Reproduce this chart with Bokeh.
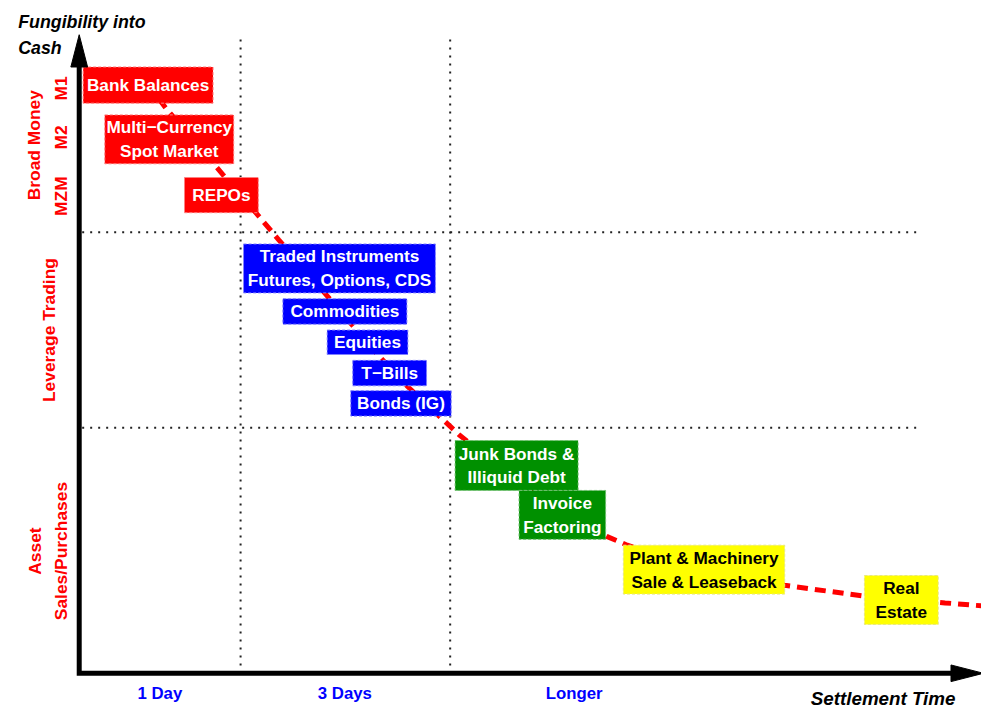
import numpy as np
from bokeh.plotting import figure
from bokeh.models import Range1d, ColumnDataSource
from bokeh.embed import file_html
from bokeh.resources import INLINE
from bokeh.core.properties import value

# ---------------- data (diagram coordinates: x to the right, y downward) -------------
box_labels = [
    "Bank Balances",
    "Multi\u2212Currency\nSpot Market",
    "REPOs",
    "Traded Instruments\nFutures, Options, CDS",
    "Commodities",
    "Equities",
    "T\u2212Bills",
    "Bonds (IG)",
    "Junk Bonds &\nIlliquid Debt",
    "Invoice\nFactoring",
    "Plant & Machinery\nSale & Leaseback",
    "Real\nEstate",
]
box_group = ["money"] * 3 + ["leverage"] * 5 + ["asset"] * 2 + ["property"] * 2
box_left = [84, 106, 187, 247, 287, 332, 358, 356, 462, 527, 633, 878]
box_right = [216, 237, 262, 442, 413, 414, 433, 458, 587, 615, 797, 953]
box_top = [68, 117, 181, 249, 305, 337, 368, 399, 450, 501, 557, 588]
box_bottom = [105, 167, 217, 299, 331, 362, 394, 425, 501, 551, 607, 638]

curve_x = [150, 168, 226, 262, 283, 320, 361, 386, 414, 449, 466, 540, 616, 637, 717, 797, 877, 960, 997]
curve_y = [86, 110, 178, 220, 245, 288, 336, 365, 395, 428, 444, 503, 548, 557, 583, 598, 609, 616, 619]

x_tick_labels = ["1 Day", "3 Days", "Longer"]
x_tick_pos = [162, 350, 583]
x_dividers = [244, 457]
y_dividers = [237, 437]

side_labels = ["Broad Money", "M1", "M2", "MZM", "Leverage Trading", "Asset", "Sales/Purchases"]
side_pos = [148, 90, 140, 200, 337, 563, 563]
side_col = [34.5, 61.5, 61.5, 61.5, 49.5, 35.5, 61]

# ---------------- styles -----------------
FILL = {"money": "#FF0000", "leverage": "#0000FF", "asset": "#009000", "property": "#FFFF00"}
EDGE = {"money": "#FF8080", "leverage": "#8080FF", "asset": "#70C070", "property": "#E6E680"}
TXT = {"money": "white", "leverage": "white", "asset": "white", "property": "black"}
FONT = value("Liberation Sans")

W, H = 981, 708
p = figure(width=W, height=H, x_range=Range1d(0, 997), y_range=Range1d(724, 0),
           output_backend="svg", toolbar_location=None, min_border=0,
           x_axis_type=None, y_axis_type=None)
p.grid.visible = False
p.outline_line_color = None
p.background_fill_color = "white"

# dotted dividers
AX_X, AX_Y = 80, 688
p.segment(x0=x_dividers, x1=x_dividers, y0=[40] * len(x_dividers), y1=[AX_Y] * len(x_dividers),
          line_color="#222222", line_width=2, line_dash="2 6")
p.segment(x0=[AX_X + 3] * len(y_dividers), x1=[935] * len(y_dividers), y0=y_dividers, y1=y_dividers,
          line_color="#222222", line_width=2, line_dash="2 6")

# dashed red curve
p.line(curve_x, curve_y, line_color="#FF0000", line_width=5, line_dash="11 7")

# boxes
src = ColumnDataSource(dict(
    left=box_left, right=box_right, top=box_top, bottom=box_bottom,
    fill=[FILL[g] for g in box_group], edge=[EDGE[g] for g in box_group],
))
p.quad(left="left", right="right", top="top", bottom="bottom", source=src,
       fill_color="fill", line_color="edge", line_width=1, line_dash="3 2")

# box texts, one entry per line
tx, ty, tt, tc = [], [], [], []
for lab, g, l, r, t, b in zip(box_labels, box_group, box_left, box_right, box_top, box_bottom):
    lines = lab.split("\n")
    cx, cy = (l + r) / 2, (t + b) / 2
    n = len(lines)
    for i, ln in enumerate(lines):
        tx.append(cx)
        ty.append(cy + (i - (n - 1) / 2) * 24.5)
        tt.append(ln)
        tc.append(TXT[g])
p.text(x=tx, y=ty, text=tt, text_color=tc, text_font=FONT, text_font_style="bold",
       text_font_size="17.2px", text_align="center", text_baseline="middle")

# axes with arrowheads
p.line([AX_X, AX_X, 968], [62, AX_Y, AX_Y], line_color="black", line_width=5, line_join="miter")
p.patch([AX_X, AX_X - 8.5, AX_X + 8.5], [35, 68, 68], fill_color="black", line_color="black")
p.patch([999, 966, 966], [AX_Y, AX_Y - 8.5, AX_Y + 8.5], fill_color="black", line_color="black")

# x category labels
p.text(x=x_tick_pos, y=[708.5] * len(x_tick_pos), text=x_tick_labels, text_color="#0000FF",
       text_font=FONT, text_font_style="bold", text_font_size="16.8px",
       text_align="center", text_baseline="middle")

# side labels (rotated)
p.text(x=side_col, y=side_pos, text=side_labels, angle=np.pi / 2, text_color="#FF0000",
       text_font=FONT, text_font_style="bold", text_font_size="17.4px",
       text_align="center", text_baseline="middle")

# axis titles
p.text(x=[18, 18], y=[21.5, 48.5], text=["Fungibility into", "Cash"], text_color="black",
       text_font=FONT, text_font_style="bold italic", text_font_size="17.8px",
       text_align="left", text_baseline="middle")
p.text(x=[897], y=[713.5], text=["Settlement Time"], text_color="black",
       text_font=FONT, text_font_style="bold italic", text_font_size="18.8px",
       text_align="center", text_baseline="middle")

open("out.html", "w").write(file_html(p, INLINE))
